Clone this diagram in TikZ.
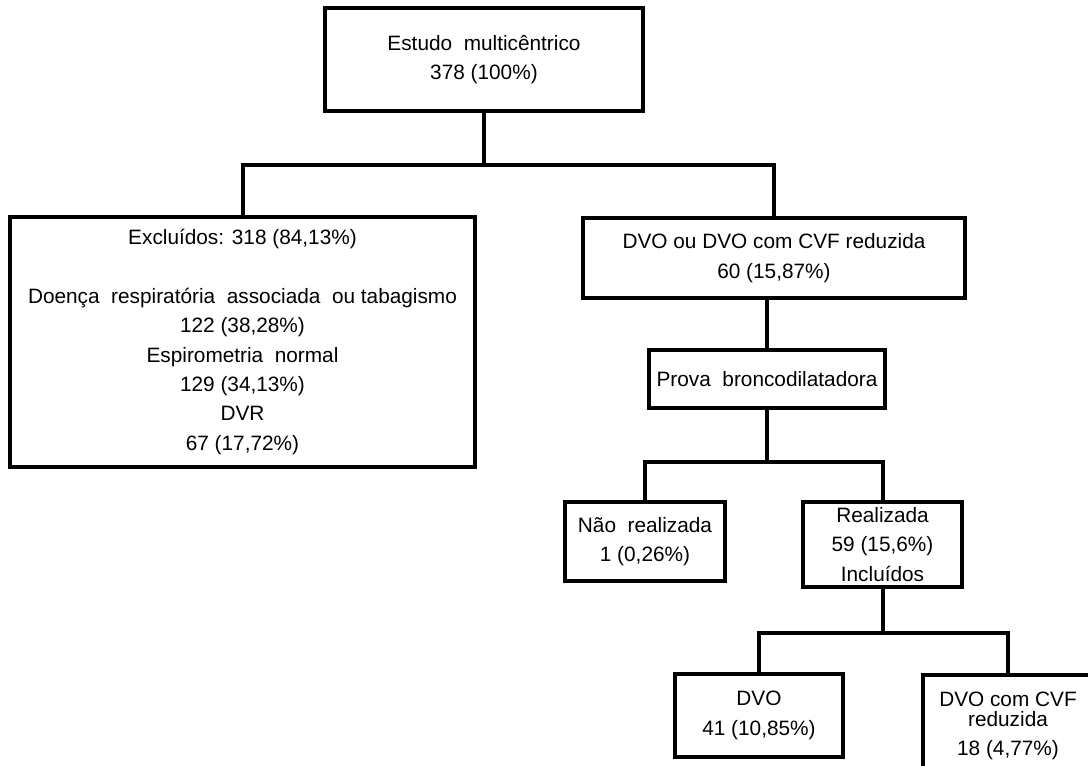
\documentclass[tikz,border=0pt]{standalone}
\usepackage{fontspec}
\setmainfont{Liberation Sans}
\begin{document}
\begin{tikzpicture}[x=0.75pt,y=-0.75pt,
  box/.style={draw=black,line width=3pt,rectangle,inner sep=0pt,align=center,
    font=\fontsize{15.6}{22}\selectfont},
  conn/.style={draw=black,line width=3pt,line join=miter,line cap=rect}]
\useasboundingbox (0,0) rectangle (1088,765);
\clip (0,0) rectangle (1088,765);
\fill[white] (0,0) rectangle (1088,765);

\node[box,minimum width=238.5pt,minimum height=77.25pt] (top) at (484,59.5)
  {Estudo\ \ multicêntrico\\378 (100\%)};
\node[box,minimum width=348.75pt,minimum height=187.5pt] (excl) at (242.5,342)
  {Excluídos: 318 (84,13\%)\\[22pt]
   Doença\ \ respiratória\ \ associada\ \ ou tabagismo\\
   122 (38,28\%)\\
   Espirometria\ \ normal\\
   129 (34,13\%)\\
   DVR\\
   67 (17,72\%)};
\node[box,minimum width=286.5pt,minimum height=60pt] (dvo60) at (774,258)
  {DVO ou DVO com CVF reduzida\\60 (15,87\%)};
\node[box,minimum width=177pt,minimum height=43.5pt] (prova) at (767,379)
  {Prova\ \ broncodilatadora};
\node[box,minimum width=120pt,minimum height=59.25pt] (nao) at (645,541.5)
  {Não\ \ realizada\\1 (0,26\%)};
\node[box,minimum width=119.25pt,minimum height=63.75pt] (real) at (882.5,544.5)
  {Realizada\\59 (15,6\%)\\Incluídos};
\node[box,minimum width=126pt,minimum height=62.25pt] (dvo41) at (759,715.5)
  {DVO\\41 (10,85\%)};
\node[box,minimum width=127.5pt,minimum height=76.5pt] (cvf) at (1008,726)
  {DVO com CVF\\[-7pt]reduzida\\18 (4,77\%)};

\coordinate (j1) at (484,165);
\coordinate (j2) at (767,462);
\coordinate (j3) at (882.5,633);

\draw[conn] (top.south) -- (j1);
\draw[conn] (excl.north) -- (excl.north |- j1) -- (dvo60.north |- j1) -- (dvo60.north);
\draw[conn] (prova.north |- dvo60.south) -- (prova.north);
\draw[conn] (prova.south) -- (j2);
\draw[conn] (nao.north) -- (nao.north |- j2) -- (real.north |- j2) -- (real.north);
\draw[conn] (real.south) -- (j3);
\draw[conn] (dvo41.north) -- (dvo41.north |- j3) -- (cvf.north |- j3) -- (cvf.north);
\end{tikzpicture}
\end{document}
